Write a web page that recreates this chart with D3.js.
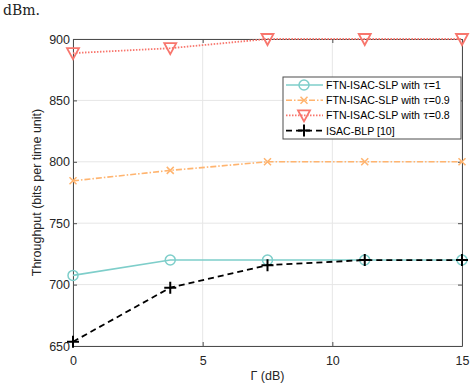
<!doctype html>
<html>
<head>
<meta charset="utf-8">
<script src="https://d3js.org/d3.v7.min.js"></script>
<style>
  body { margin: 0; background: #fff; }
  text { font-family: "Liberation Sans", Arial, sans-serif; }
</style>
</head>
<body>
<div id="main"></div>
<script>
const gammaDb = [0, 3.75, 7.5, 11.25, 15]
const tau1 = [707.5, 720, 720, 720, 720]
const tau09 = [784.5, 793, 800, 800, 800]
const tau08 = [888.5, 892.5, 900, 900, 900]
const isacBlp = [653.5, 697.5, 715.8, 720, 720]
const xTicks = [0, 5, 10, 15]
const yTicks = [650, 700, 750, 800, 850, 900]
const seriesNames = ['FTN-ISAC-SLP with ', 'FTN-ISAC-SLP with ', 'FTN-ISAC-SLP with ', 'ISAC-BLP [10]']
const seriesTau = ['1', '0.9', '0.8', null]

const W = 472, H = 386
const m = {left: 73, right: 10, top: 39, bottom: 40}
const pw = W - m.left - m.right, ph = H - m.top - m.bottom

const svg = d3.select('#main').append('svg').attr('width', W).attr('height', H)

// bit of the paper text just above the figure
svg.append('text').attr('x', 3).attr('y', 15)
   .style('font-family', '"DejaVu Serif", "Liberation Serif", serif')
   .style('font-size', '14px').attr('fill', '#222').text('dBm.')

const x = d3.scaleLinear().domain([0, 15]).range([0, pw])
const y = d3.scaleLinear().domain([650, 900]).range([ph, 0])

const g = svg.append('g').attr('transform', `translate(${m.left},${m.top})`)

// grid
g.selectAll('.gx').data(xTicks).enter().append('line')
 .attr('x1', d => x(d)).attr('x2', d => x(d)).attr('y1', 0).attr('y2', ph)
 .attr('stroke', '#e6e6e6').attr('stroke-width', 1)
g.selectAll('.gy').data(yTicks).enter().append('line')
 .attr('y1', d => y(d)).attr('y2', d => y(d)).attr('x1', 0).attr('x2', pw)
 .attr('stroke', '#e6e6e6').attr('stroke-width', 1)

// axes
const axisCol = '#4d4d4d'
const styleAxis = sel => {
  sel.select('.domain').attr('stroke', axisCol)
  sel.selectAll('.tick line').attr('stroke', axisCol)
  sel.selectAll('text').attr('fill', '#262626').style('font-size', '12.5px')
}
g.append('g').attr('transform', `translate(0,${ph})`)
 .call(d3.axisBottom(x).tickValues(xTicks).tickSizeInner(-4).tickSizeOuter(0).tickPadding(10))
 .call(styleAxis)
g.append('g')
 .call(d3.axisLeft(y).tickValues(yTicks).tickSizeInner(-4).tickSizeOuter(0).tickPadding(3))
 .call(styleAxis)
g.append('g')
 .call(d3.axisTop(x).tickValues(xTicks).tickSizeInner(-4).tickSizeOuter(0).tickFormat(''))
 .call(styleAxis)
g.append('g').attr('transform', `translate(${pw},0)`)
 .call(d3.axisRight(y).tickValues(yTicks).tickSizeInner(-4).tickSizeOuter(0).tickFormat(''))
 .call(styleAxis)

// axis labels
svg.append('text').attr('x', m.left + pw / 2).attr('y', 380).attr('text-anchor', 'middle')
   .style('font-size', '12.5px').attr('fill', '#262626').text('Γ (dB)')
svg.append('text').attr('transform', `translate(41,${m.top + ph / 2}) rotate(-90)`)
   .attr('text-anchor', 'middle').style('font-size', '12.5px').attr('fill', '#262626')
   .text('Throughput (bits per time unit)')

// markers
const marker = (sel, type, col) => {
  if (type === 'circle') {
    sel.append('circle').attr('r', 5).attr('fill', 'none').attr('stroke', col).attr('stroke-width', 1.5)
  } else if (type === 'x') {
    sel.append('path').attr('d', 'M-3.5,-3.5L3.5,3.5M-3.5,3.5L3.5,-3.5')
       .attr('stroke', col).attr('stroke-width', 1.5)
  } else if (type === 'tri') {
    sel.append('path').attr('d', 'M-6,-5L6,-5L0,6Z').attr('fill', 'none')
       .attr('stroke', col).attr('stroke-width', 1.8)
  } else {
    sel.append('path').attr('d', 'M-6,0L6,0M0,-6L0,6').attr('stroke', col).attr('stroke-width', 2)
  }
}

const series = [
  {vals: tau1, col: '#7ececa', dash: null, w: 1.6, mk: 'circle'},
  {vals: tau09, col: '#ffb46f', dash: '6,2,1.5,2', w: 1.6, mk: 'x'},
  {vals: tau08, col: '#f8766d', dash: '1.5,1.5', w: 1.8, mk: 'tri'},
  {vals: isacBlp, col: '#000', dash: '6,4', w: 1.8, mk: 'plus'}
]

const line = d3.line().x(d => x(d[0])).y(d => y(d[1]))
series.forEach(s => {
  const pts = gammaDb.map((gv, i) => [gv, s.vals[i]])
  g.append('path').datum(pts).attr('d', line).attr('fill', 'none')
   .attr('stroke', s.col).attr('stroke-width', s.w).attr('stroke-dasharray', s.dash)
  g.selectAll(null).data(pts).enter().append('g')
   .attr('transform', d => `translate(${x(d[0])},${y(d[1])})`)
   .each(function () { marker(d3.select(this), s.mk, s.col) })
})

// legend
const lg = svg.append('g').attr('transform', 'translate(283,77)')
lg.append('rect').attr('width', 178).attr('height', 62).attr('fill', '#fff')
  .attr('stroke', '#4d4d4d').attr('stroke-width', 1)
series.forEach((s, i) => {
  const row = lg.append('g').attr('transform', `translate(0,${8 + i * 15.2})`)
  row.append('line').attr('x1', 3).attr('x2', 40).attr('stroke', s.col)
     .attr('stroke-width', s.w).attr('stroke-dasharray', s.dash)
  const mg = row.append('g').attr('transform', 'translate(21,0)')
  marker(mg, s.mk, s.col)
  const t = row.append('text').attr('x', 43).attr('y', 4).style('font-size', '10.6px').attr('fill', '#000')
  t.append('tspan').text(seriesNames[i])
  if (seriesTau[i]) {
    t.append('tspan').style('font-style', 'italic').style('font-family', '"DejaVu Serif", serif').text('τ')
    t.append('tspan').text('=' + seriesTau[i])
  }
})
</script>
</body>
</html>
